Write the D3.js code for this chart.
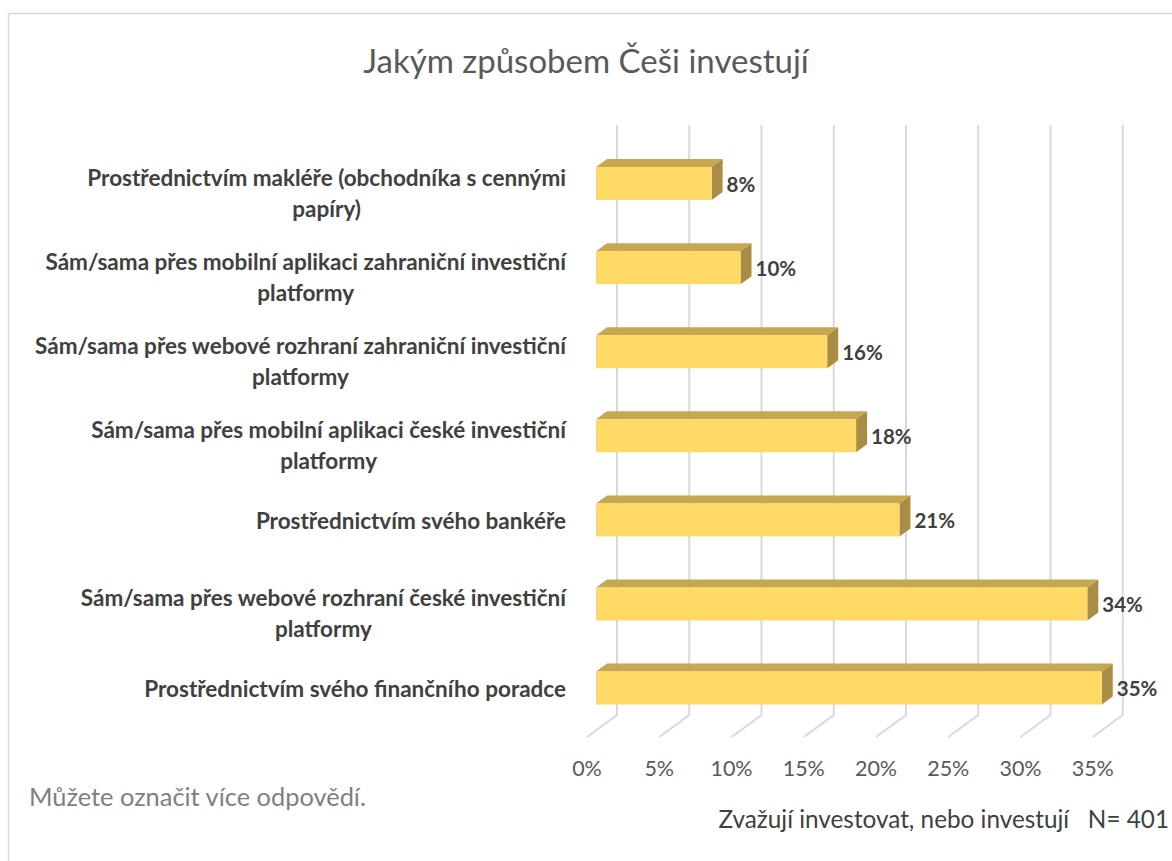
<!DOCTYPE html>
<html>
<head>
<meta charset="utf-8">
<script src="https://cdn.jsdelivr.net/npm/d3@7"></script>
<style>
  body { margin: 0; background: #fff; }
  text { font-family: Lato, "Open Sans", sans-serif; white-space: pre; }
</style>
</head>
<body>
<div id="chart"></div>
<script>
// data
let categories = [
    "Prostřednictvím makléře (obchodníka s cennými papíry)",
    "Sám/sama přes mobilní aplikaci zahraniční investiční platformy",
    "Sám/sama přes webové rozhraní zahraniční investiční platformy",
    "Sám/sama přes mobilní aplikaci české investiční platformy",
    "Prostřednictvím svého bankéře",
    "Sám/sama přes webové rozhraní české investiční platformy",
    "Prostřednictvím svého finančního poradce"
];
let values = [8, 10, 16, 18, 21, 34, 35];
let ticks = [0, 5, 10, 15, 20, 25, 30, 35];
let title = "Jakým způsobem Češi investují";
let noteLeft = "Můžete označit více odpovědí.";
let noteRight = "Zvažují investovat, nebo investují   N= 401";

let width = 1172, height = 861;
let svg = d3.select("#chart")
    .append("svg")
    .attr("width", width)
    .attr("height", height);

// chart frame
svg.append("rect")
    .attr("x", 8.5).attr("y", 13.5)
    .attr("width", 1200).attr("height", 900)
    .attr("fill", "none")
    .attr("stroke", "#d9d9d9")
    .attr("stroke-width", 1.5);

svg.append("text")
    .attr("x", 586).attr("y", 73)
    .attr("text-anchor", "middle")
    .attr("font-size", 33)
    .attr("fill", "#595959")
    .text(title);

// 3d geometry: bars sit in the middle of the depth
let x0 = 596;               // front face of bars at 0%
let floorFront = {dx: -9, y: 737};
let wallBack = {dx: 21, top: 125, bottom: 715};
let barDepth = {dx: 11, dy: -8};

let x = d3.scaleLinear()
    .domain([0, 35])
    .range([0, 505.75]);

let y = d3.scaleBand()
    .domain(categories)
    .range([141.5, 730.1]);

let barH = 33;

// back wall gridlines + floor lines
let grid = svg.append("g").attr("stroke", "#d9d9d9").attr("stroke-width", 2).attr("fill", "none");
grid.selectAll(".wall")
    .data(ticks)
    .enter()
    .append("path")
    .attr("d", d => {
        let bx = x0 + wallBack.dx + x(d);
        let fx = x0 + floorFront.dx + x(d);
        return "M" + bx + "," + wallBack.top + "L" + bx + "," + wallBack.bottom + "L" + fx + "," + floorFront.y;
    });

// bars
let bars = svg.selectAll(".bar")
    .data(values)
    .enter()
    .append("g")
    .attr("class", "bar");

bars.each(function (d, i) {
    let g = d3.select(this);
    let cy = y(categories[i]) + y.bandwidth() / 2;
    let top = cy - barH / 2, bot = cy + barH / 2;
    let left = x0, right = x0 + x(d);
    let dx = barDepth.dx, dy = barDepth.dy;
    // top face
    g.append("path")
        .attr("d", `M${left},${top}L${left + dx},${top + dy}L${right + dx},${top + dy}L${right},${top}Z`)
        .attr("fill", "#c6a850");
    // side face
    g.append("path")
        .attr("d", `M${right},${top}L${right + dx},${top + dy}L${right + dx},${bot + dy}L${right},${bot}Z`)
        .attr("fill", "#a78d46");
    // front face
    g.append("rect")
        .attr("x", left).attr("y", top)
        .attr("width", right - left).attr("height", barH)
        .attr("fill", "#fed966");
    // value label
    g.append("text")
        .attr("x", right + dx + 4)
        .attr("y", cy + 8)
        .attr("font-size", 20.5)
        .attr("font-weight", "bold")
        .attr("fill", "#404040")
        .text(d + "%");
});

// axis tick labels
svg.selectAll(".tick")
    .data(ticks)
    .enter()
    .append("text")
    .attr("class", "tick")
    .attr("x", d => x0 + floorFront.dx + x(d))
    .attr("y", 776)
    .attr("text-anchor", "middle")
    .attr("font-size", 21.5)
    .attr("fill", "#595959")
    .text(d => d + "%");

// category labels, wrapped and centred within a right aligned block
let labelRight = 566, maxW = 540, lineH = 31;
let labels = svg.append("g").attr("font-size", 22.5).attr("font-weight", "bold").attr("fill", "#404040");
categories.forEach(function (c, i) {
    let cy = y(c) + y.bandwidth() / 2;
    let probe = labels.append("text");
    let words = c.split(" "), lines = [], cur = "";
    words.forEach(w => {
        let test = cur ? cur + " " + w : w;
        probe.text(test);
        if (probe.node().getComputedTextLength() > maxW && cur) {
            lines.push(cur);
            cur = w;
        } else {
            cur = test;
        }
    });
    lines.push(cur);
    let widths = lines.map(l => { probe.text(l); return probe.node().getComputedTextLength(); });
    probe.remove();
    let blockW = d3.max(widths);
    let firstY = lines.length > 1 ? cy + 2 : cy + 9;
    lines.forEach((l, j) => {
        labels.append("text")
            .attr("x", labelRight - blockW / 2)
            .attr("y", firstY + j * lineH)
            .attr("text-anchor", "middle")
            .text(l);
    });
});

svg.append("text")
    .attr("x", 29).attr("y", 806)
    .attr("font-size", 25.4)
    .attr("fill", "#7f7f7f")
    .text(noteLeft);

svg.append("text")
    .attr("x", 1169).attr("y", 828)
    .attr("text-anchor", "end")
    .attr("font-size", 24.3)
    .attr("fill", "#404040")
    .text(noteRight);
</script>
</body>
</html>
